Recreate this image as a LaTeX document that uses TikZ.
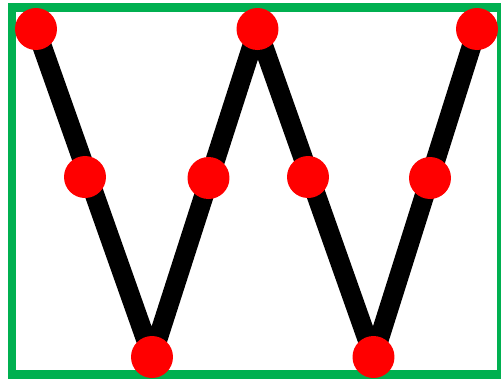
\documentclass[tikz,border=0pt]{standalone}
\usetikzlibrary{backgrounds}
\definecolor{frame}{HTML}{00B050}
\definecolor{dot}{HTML}{FF0000}

\begin{document}
\begin{tikzpicture}[x=0.02cm,y=-0.02cm,
  dot/.style={circle,fill=dot,inner sep=0pt,minimum size=0.84cm},
  zig/.style={black,line width=0.39cm,line join=round}]
\useasboundingbox (0,0) rectangle (501,383);
% top and bottom corners of the W
\foreach \n/\x/\y in {t1/36/29,t2/257.5/29,t3/477/29,b1/152/357,b2/373.5/357}{
  \node[dot] (\n) at (\x,\y) {};
}
% dots part way along the strokes
\foreach \n/\x/\y in {m1/85/177,m2/208.5/178,m3/308/177,m4/430/178}{
  \node[dot] (\n) at (\x,\y) {};
}
\begin{scope}[on background layer]
\draw[frame,line width=0.18cm] (12,7.5) rectangle (501,374.5);
\draw[zig] (t1.center)--(b1.center)--(t2.center)--(b2.center)--(t3.center);
\end{scope}
\end{tikzpicture}
\end{document}
